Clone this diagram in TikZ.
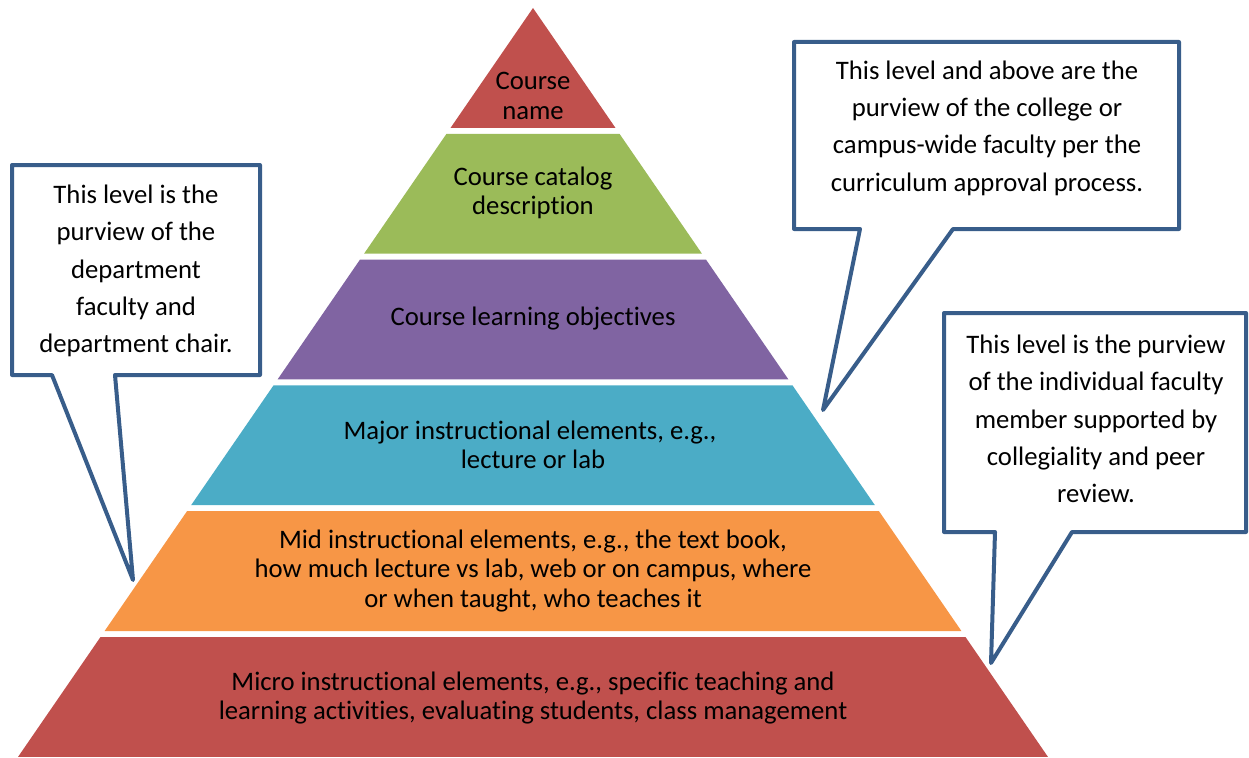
\documentclass[tikz,border=0pt]{standalone}
\usepackage{fontspec, xcolor, tikz}
\setmainfont{Carlito}[Ligatures=NoCommon]
\definecolor{tierRed}{HTML}{C0504D}
\definecolor{tierGreen}{HTML}{9BBB59}
\definecolor{tierPurple}{HTML}{8064A2}
\definecolor{tierTeal}{HTML}{4BACC6}
\definecolor{tierOrange}{HTML}{F79646}
\definecolor{noteBlue}{HTML}{385D8A}
\tikzset{tiertext/.style={align=center, font=\fontsize{26.7}{29.5}\selectfont}}
\tikzset{notetext/.style={align=center, font=\fontsize{26.7}{37.3}\selectfont}}
\tikzset{notebox/.style={draw=noteBlue, line width=4pt, line join=round, fill=white}}

\begin{document}
\begin{tikzpicture}[x=1pt, y=-1pt]
    \useasboundingbox (0,0) rectangle (1249,757);
    \newcommand\midX{533}

    % pyramid tiers, top to bottom
    \fill[tierRed]    (\midX, 8) -- (\midX + 82.4, 127.8) -- (\midX - 82.4, 127.8) -- cycle;
    \fill[tierGreen]  (\midX - 86.5, 133.8) -- (\midX + 86.5, 133.8) -- (\midX + 168.9, 253.6) -- (\midX - 168.9, 253.6) -- cycle;
    \fill[tierPurple] (\midX - 173.0, 259.6) -- (\midX + 173.0, 259.6) -- (\midX + 255.4, 379.4) -- (\midX - 255.4, 379.4) -- cycle;
    \fill[tierTeal]   (\midX - 259.5, 385.4) -- (\midX + 259.5, 385.4) -- (\midX + 341.9, 505.2) -- (\midX - 341.9, 505.2) -- cycle;
    \fill[tierOrange] (\midX - 346.0, 511.2) -- (\midX + 346.0, 511.2) -- (\midX + 428.4, 631.0) -- (\midX - 428.4, 631.0) -- cycle;
    \fill[tierRed]    (\midX - 432.5, 637.0) -- (\midX + 432.5, 637.0) -- (\midX + 514.9, 756.8) -- (\midX - 514.9, 756.8) -- cycle;

    \node[tiertext] (name) at (\midX, 96){Course\\name};
    \node[tiertext] (catalog) at (\midX, 193){Course catalog\\description};
    \node[tiertext] (objectives) at (\midX, 319){Course learning objectives};
    \node[tiertext] (major) at (\midX, 445){Major instructional elements, e.g.,\ \mbox{}\\lecture or lab};
    \node[tiertext] (mid) at (\midX, 571){Mid instructional elements, e.g., the text book,\\how much lecture vs lab, web or on campus, where\\or when taught, who teaches it};
    \node[tiertext] (micro) at (\midX, 698){Micro instructional elements, e.g., specific teaching and\\learning activities, evaluating students, class management};

    % callouts with their tips
    \coordinate (tipDept) at (133, 580);
    \coordinate (tipCollege) at (823, 410);
    \coordinate (tipFaculty) at (991, 663);

    \draw[notebox] (12, 165) -- (260, 165) -- (260, 375) -- (115, 375) -- (tipDept) -- (52, 375) -- (12, 375) -- cycle;
    \draw[notebox] (794, 42) -- (1179, 42) -- (1179, 229) -- (953, 229) -- (tipCollege) -- (860, 229) -- (794, 229) -- cycle;
    \draw[notebox] (944, 313) -- (1246, 313) -- (1246, 532) -- (1072, 532) -- (tipFaculty) -- (995, 532) -- (944, 532) -- cycle;

    \node[notetext] (dept) at (136, 271){This level is the\\purview of the\\department\\faculty and\\department chair.};
    \node[notetext] (college) at (987, 128){This level and above are the\\purview of the college or\\campus-wide faculty per the\\curriculum approval process.};
    \node[notetext] (faculty) at (1096, 419){This level is the purview\\of the individual faculty\\member supported by\\collegiality and peer\\review.};
\end{tikzpicture}
\end{document}
